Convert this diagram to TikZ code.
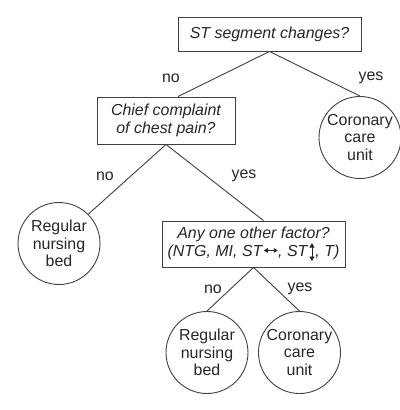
\documentclass[tikz,border=0pt]{standalone}
\usepackage{fontspec}
\setmainfont{Liberation Sans}
\usetikzlibrary{calc,arrows.meta}
\newcommand{\harr}{\tikz[baseline=0pt,x=1pt,y=1pt]\draw[line width=0.9pt, draw=black!85, {Triangle[length=4pt,width=4.5pt]}-{Triangle[length=4pt,width=4.5pt]}] (0,5.6)--(14,5.6);}
\newcommand{\varr}{\tikz[baseline=0pt,x=1pt,y=1pt]\draw[line width=0.9pt, draw=black!85, {Triangle[length=4.5pt,width=5pt]}-{Triangle[length=4.5pt,width=5pt]}] (0,-5)--(0,13);}
\begin{document}
\begin{tikzpicture}[x=1bp,y=-1bp,
  every node/.style={font=\fontsize{16}{18}\selectfont, text=black!85},
  qbox/.style={draw=black!75, line width=0.9bp, rectangle, inner sep=0pt, align=center, font=\fontsize{16}{18}\selectfont\itshape},
  leaf/.style={draw=black!75, line width=0.9bp, circle, minimum size=82bp, inner sep=0pt, align=center, font=\fontsize{16}{17.5}\selectfont},
  conn/.style={draw=black!75, line width=0.9bp},
  lab/.style={inner sep=0pt}]
\useasboundingbox (0,0) rectangle (400,410);
\node[qbox, minimum width=183bp, minimum height=34bp] (top) at (269.5,34) {ST segment changes?};
\node[qbox, minimum width=138bp, minimum height=47bp] (chief) at (166,120.5) {Chief complaint\\of chest pain?};
\node[leaf] (ccu1) at (360,137.5) {Coronary\\care\\unit};
\node[leaf] (rnb1) at (59,243.5) {Regular\\nursing\\bed};
\node[qbox, minimum width=183bp, minimum height=46bp] (any) at (253.5,244) {Any one other factor?\\(NTG, MI, ST\kern1pt\harr, ST\kern2pt\varr\kern1pt, T)};
\node[leaf] (rnb2) at (207,352.5) {Regular\\nursing\\bed};
\node[leaf] (ccu2) at (299.5,352.5) {Coronary\\care\\unit};
\draw[conn] (top.south) -- ($(chief.north)+(12,0)$);
\draw[conn] (top.south) -- (ccu1.north);
\draw[conn] (chief.south) -- (rnb1.45);
\draw[conn] (chief.south) -- ($(any.north)+(10,0)$);
\draw[conn] (any.south) -- (rnb2.north);
\draw[conn] (any.south) -- (ccu2.north);
\node[lab] (l1) at (171,78) {no};
\node[lab] (l2) at (371,78) {yes};
\node[lab] (l3) at (105,176) {no};
\node[lab] (l4) at (244,176) {yes};
\node[lab] (l5) at (213,289) {no};
\node[lab] (l6) at (300,289) {yes};
\end{tikzpicture}
\end{document}
